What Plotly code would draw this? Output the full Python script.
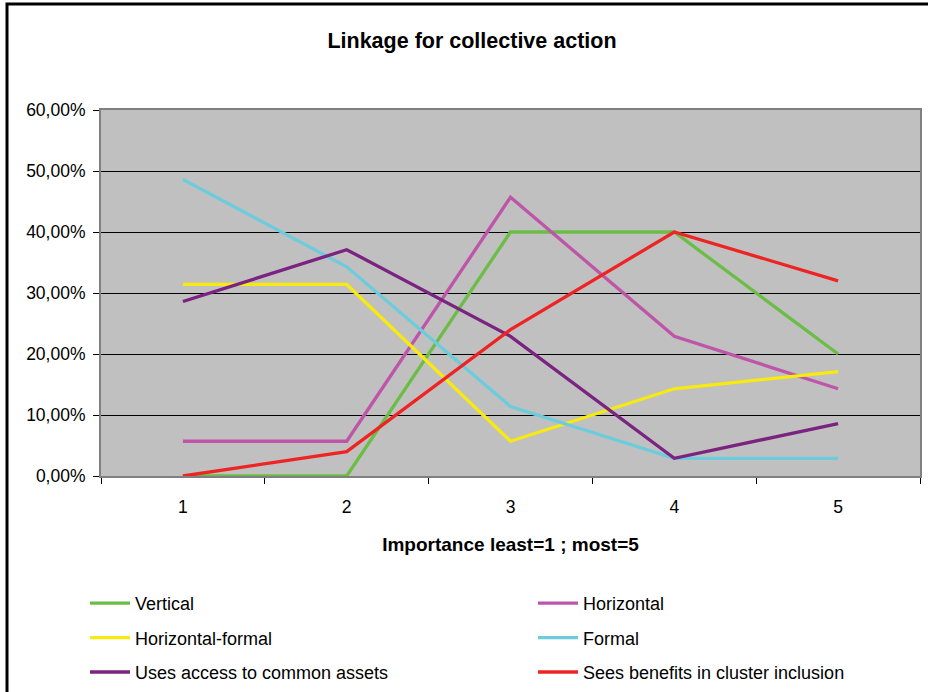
import plotly.graph_objects as go

# Importance levels (least=1 ... most=5)
categories = ["1", "2", "3", "4", "5"]

# Share of respondents per importance level, in percent
vertical = [0.0, 0.0, 40.0, 40.0, 20.0]
horizontal = [5.7, 5.7, 45.7, 22.9, 14.3]
horizontal_formal = [31.4, 31.4, 5.7, 14.3, 17.1]
formal = [48.6, 34.3, 11.4, 2.9, 2.9]
common_assets = [28.6, 37.1, 22.9, 2.9, 8.6]
cluster_benefits = [0.0, 4.0, 24.0, 40.0, 32.0]

series_names = [
    "Vertical",
    "Horizontal",
    "Horizontal-formal",
    "Formal",
    "Uses access to common assets",
    "Sees benefits in cluster inclusion",
]
series_values = [vertical, horizontal, horizontal_formal, formal, common_assets, cluster_benefits]
series_colors = ["#6BBD45", "#BE55A8", "#F7EA10", "#6DCCDC", "#7A2381", "#EE2424"]
# left column of the legend holds the first, third and fifth series
legend_slot = ["legend", "legend2", "legend", "legend2", "legend", "legend2"]

W, H = 928, 692
L, R, T, B = 101, 8, 110, 216
PW, PH = W - L - R, H - T - B
FONT = "Liberation Sans, Arial, sans-serif"


def px_x(px):
    """pixel column -> paper x"""
    return (px - L) / PW


def px_y(py):
    """pixel row -> paper y"""
    return (T + PH - py) / PH


fig = go.Figure()
for i, (name, vals, col, lg) in enumerate(zip(series_names, series_values, series_colors, legend_slot)):
    fig.add_trace(go.Scatter(
        x=categories,
        y=[v / 100 for v in vals],
        mode="lines",
        name=name,
        line=dict(color=col, width=3.3),
        legend=lg,
        legendgroup=f"g{i}",
    ))

legend_common = dict(
    orientation="v",
    xref="paper", yref="paper",
    xanchor="left", yanchor="top",
    bgcolor="rgba(0,0,0,0)",
    font=dict(family=FONT, size=18, color="#000000"),
    itemwidth=40,
    tracegroupgap=8,
    traceorder="grouped",
)

fig.update_layout(
    width=W, height=H,
    margin=dict(l=L, r=R, t=T, b=B, autoexpand=False),
    paper_bgcolor="#FFFFFF",
    plot_bgcolor="#C0C0C0",
    separators=",.",
    font=dict(family=FONT, size=17, color="#000000"),
    title=dict(
        text="<b>Linkage for collective action</b>",
        font=dict(family=FONT, size=21.5, color="#000000"),
        xref="container", yref="container",
        x=472 / W, y=1 - 40 / H,
        xanchor="center", yanchor="middle",
    ),
    legend=dict(**legend_common, x=px_x(85), y=px_y(585)),
    legend2=dict(**legend_common, x=px_x(533), y=px_y(585)),
    showlegend=True,
)

fig.update_xaxes(
    type="category",
    tickson="boundaries",
    ticks="outside",
    ticklen=6,
    tickcolor="#000000",
    tickangle=0,
    showgrid=False,
    showline=True,
    linecolor="#808080",
    linewidth=2,
    mirror=True,
    ticklabelstandoff=14,
    tickfont=dict(family=FONT, size=17.5, color="#000000"),
    title=dict(
        text="<b>Importance least=1 ; most=5</b>",
        font=dict(family=FONT, size=19, color="#000000"),
        standoff=22,
    ),
    range=[-0.5, 4.5],
)

fig.update_yaxes(
    range=[0, 0.6],
    dtick=0.1,
    tickformat=".2%",
    ticks="outside",
    ticklen=6,
    tickcolor="#000000",
    showgrid=True,
    gridcolor="#000000",
    gridwidth=1,
    zeroline=False,
    showline=True,
    linecolor="#808080",
    linewidth=2,
    mirror=True,
    ticklabelstandoff=4,
    tickfont=dict(family=FONT, size=17.5, color="#000000"),
)

# chart frame around the whole drawing
fig.add_shape(
    type="rect", xref="paper", yref="paper",
    x0=px_x(7), x1=px_x(W + 20),
    y0=px_y(H + 20), y1=px_y(4),
    line=dict(color="#000000", width=3),
    fillcolor="rgba(0,0,0,0)",
    layer="below",
)

fig.write_html("out.html")
